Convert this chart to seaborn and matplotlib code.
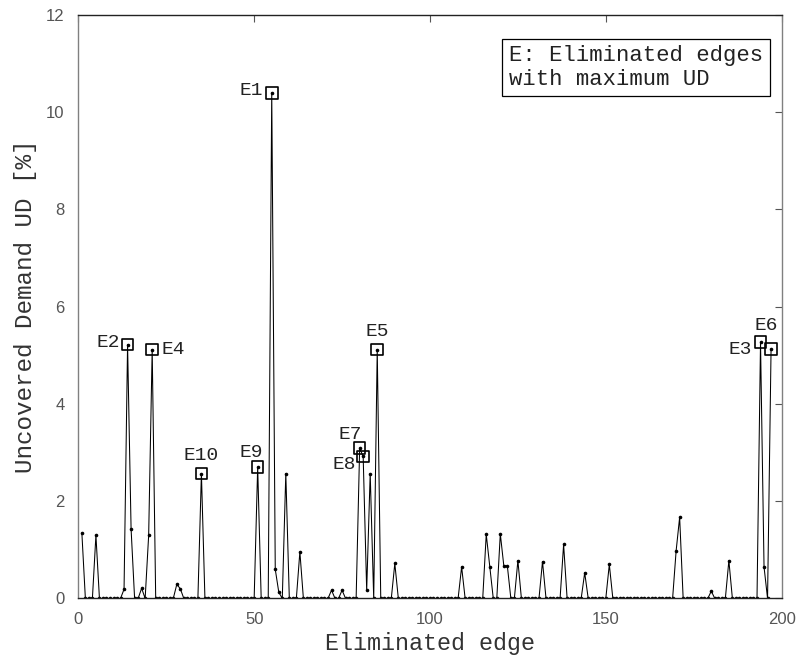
import numpy as np
import pandas as pd
import matplotlib
matplotlib.use("Agg")
import matplotlib.pyplot as plt
import seaborn as sns

# uncovered demand per eliminated edge (edges 1..197, zero where not listed)
n_edges = 197
nonzero_edges = [1, 5, 13, 14, 15, 18, 20, 21, 28, 29, 35, 51, 55, 56, 57, 59, 63,
                 72, 75, 80, 81, 82, 83, 85, 90, 109, 116, 117, 120, 121, 122, 125,
                 132, 138, 144, 151, 170, 171, 180, 185, 194, 195, 197]
nonzero_ud = [1.35, 1.30, 0.19, 5.22, 1.43, 0.21, 1.30, 5.12, 0.29, 0.20, 2.57, 2.70,
              10.40, 0.60, 0.13, 2.57, 0.96, 0.17, 0.17, 3.09, 2.92, 0.17, 2.57, 5.12,
              0.72, 0.65, 1.32, 0.65, 1.33, 0.67, 0.67, 0.78, 0.76, 1.11, 0.53, 0.70,
              0.98, 1.67, 0.15, 0.78, 5.27, 0.65, 5.13]

# edges with maximum UD and their labels
max_labels = ["E1", "E2", "E3", "E4", "E5", "E6", "E7", "E8", "E9", "E10"]
max_edges = [55, 14, 194, 21, 85, 197, 80, 81, 51, 35]

edges = np.arange(1, n_edges + 1)
ud = np.zeros(n_edges)
ud[np.array(nonzero_edges) - 1] = nonzero_ud
df = pd.DataFrame({"edge": edges, "ud": ud})
dmax = df.set_index("edge").loc[max_edges].reset_index()
dmax["label"] = max_labels

# label offsets in pixels (dx, dy, ha)
offsets = {"E1": (-9, 2, "right"), "E2": (-8, 2, "right"), "E3": (-9, -7, "right"),
           "E4": (9, 0, "left"), "E5": (0, 18, "center"), "E6": (-5, 24, "center"),
           "E7": (-9, 14, "center"), "E8": (-7, -8, "right"), "E9": (-6, 15, "center"),
           "E10": (0, 18, "center")}

sns.set_style("white")
mono = ["Liberation Mono", "DejaVu Sans Mono"]
plt.rcParams["font.family"] = ["Liberation Sans", "DejaVu Sans"]

fig = plt.figure(figsize=(8.01, 6.61), dpi=100)
ax = fig.add_axes([0.0978, 0.0946, 0.878, 0.8827])

sns.lineplot(data=df, x="edge", y="ud", ax=ax, color="black", lw=0.75,
             marker="o", markersize=2.6, markeredgewidth=0)
sns.scatterplot(data=dmax, x="edge", y="ud", ax=ax, marker="s", s=70,
                facecolor="none", edgecolor="black", linewidth=1.2, zorder=5)

for _, r in dmax.iterrows():
    dx, dy, ha = offsets[r["label"]]
    ax.annotate(r["label"], (r["edge"], r["ud"]), xytext=(dx, dy),
                textcoords="offset pixels", ha=ha, va="center",
                fontsize=14, family=mono, color="#222222")

ax.text(0.793, 0.91, "E: Eliminated edges\nwith maximum UD", transform=ax.transAxes,
        ha="center", va="center", multialignment="left", fontsize=16, family=mono,
        linespacing=1.15, color="#222222",
        bbox=dict(boxstyle="square,pad=0.3", facecolor="white", edgecolor="black", lw=0.9))

ax.set_xlim(0, 200)
ax.set_ylim(0, 12)
ax.set_xticks(range(0, 201, 50))
ax.set_yticks(range(0, 13, 2))
ax.set_xlabel("Eliminated edge", family=mono, fontsize=16.8, color="#333333", labelpad=3)
ax.set_ylabel("Uncovered Demand UD [%]", family=mono, fontsize=17.5, color="#333333", labelpad=6)
ax.tick_params(direction="in", length=5, top=True, right=True, labelsize=12,
               colors="#555555", pad=10)
for s in ["left", "right"]:
    ax.spines[s].set_color("#808080")
for s in ["top", "bottom"]:
    ax.spines[s].set_color("#222222")
for s in ax.spines.values():
    s.set_linewidth(1.0)

fig.savefig("out.png", dpi=100)
